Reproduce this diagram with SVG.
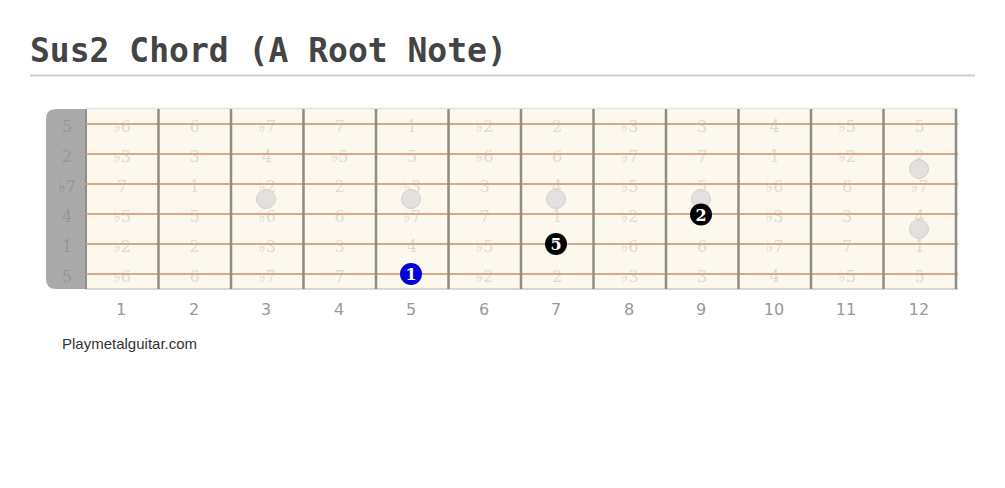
<svg xmlns="http://www.w3.org/2000/svg" width="1005" height="488" viewBox="0 0 1005 488">
<style>
.title{font-family:"DejaVu Sans Mono",monospace;font-weight:bold;font-size:33px;fill:#444}
.lbl{font-family:"DejaVu Serif",serif;font-size:16px;fill:#dedbd4;text-anchor:middle}
.nut{font-family:"DejaVu Serif",serif;font-size:16px;fill:#959595;text-anchor:middle}
.fnum{font-family:"DejaVu Sans",sans-serif;font-size:16px;fill:#999;text-anchor:middle}
.wm{font-family:"Liberation Sans",Arial,sans-serif;font-size:15px;fill:#333}
.str{stroke:#d3ab88;stroke-width:2}
.fret{stroke:#8f8c85;stroke-width:2.5}
.inlay{fill:#e2e1dd;stroke:#d2d0cc;stroke-width:1}
.dtxt{font-family:"DejaVu Serif",serif;font-weight:bold;font-size:16px;fill:#fff;text-anchor:middle}
</style>
<rect width="1005" height="488" fill="#fff"/>
<g id="title">
<text class="title" x="30" y="62">Sus2 Chord (A Root Note)</text>
<line x1="30" y1="75.5" x2="975" y2="75.5" stroke="#cfcfcf" stroke-width="2"/>
</g>
<g id="board">
<rect x="86" y="109" width="872" height="180" fill="#fdf8ee"/>
<line x1="86" y1="108.5" x2="958" y2="108.5" stroke="#e6e4e0" stroke-width="1.5"/>
<line x1="86" y1="289" x2="958" y2="289" stroke="#cdcbc6" stroke-width="1.5"/>
<path d="M86 109 H56 Q46 109 46 119 V279 Q46 289 56 289 H86 Z" fill="#aaa"/>
<line x1="86" y1="109" x2="86" y2="289" stroke="#8f8c85" stroke-width="2"/>
</g>
<g id="inlays">
<circle class="inlay" cx="266" cy="199" r="9.5"/>
<circle class="inlay" cx="411" cy="199" r="9.5"/>
<circle class="inlay" cx="556" cy="199" r="9.5"/>
<circle class="inlay" cx="701" cy="199" r="9.5"/>
<circle class="inlay" cx="919" cy="169" r="9.5"/>
<circle class="inlay" cx="919" cy="229" r="9.5"/>
</g>
<g id="labels">
<g class="nut">
<text x="67" y="131.5">5</text><text x="67" y="161.5">2</text><text x="67" y="191.5">♭7</text><text x="67" y="221.5">4</text><text x="67" y="251.5">1</text><text x="67" y="281.5">5</text>
</g>
<g class="lbl">
<text x="122" y="131.5">♭6</text><text x="194.5" y="131.5">6</text><text x="267" y="131.5">♭7</text><text x="339.5" y="131.5">7</text><text x="412" y="131.5">1</text><text x="484.5" y="131.5">♭2</text><text x="557" y="131.5">2</text><text x="629.5" y="131.5">♭3</text><text x="702" y="131.5">3</text><text x="774.5" y="131.5">4</text><text x="847" y="131.5">♭5</text><text x="919.5" y="131.5">5</text>
<text x="122" y="161.5">♭3</text><text x="194.5" y="161.5">3</text><text x="267" y="161.5">4</text><text x="339.5" y="161.5">♭5</text><text x="412" y="161.5">5</text><text x="484.5" y="161.5">♭6</text><text x="557" y="161.5">6</text><text x="629.5" y="161.5">♭7</text><text x="702" y="161.5">7</text><text x="774.5" y="161.5">1</text><text x="847" y="161.5">♭2</text><text x="919.5" y="161.5">2</text>
<text x="122" y="191.5">7</text><text x="194.5" y="191.5">1</text><text x="267" y="191.5">♭2</text><text x="339.5" y="191.5">2</text><text x="412" y="191.5">♭3</text><text x="484.5" y="191.5">3</text><text x="557" y="191.5">4</text><text x="629.5" y="191.5">♭5</text><text x="702" y="191.5">5</text><text x="774.5" y="191.5">♭6</text><text x="847" y="191.5">6</text><text x="919.5" y="191.5">♭7</text>
<text x="122" y="221.5">♭5</text><text x="194.5" y="221.5">5</text><text x="267" y="221.5">♭6</text><text x="339.5" y="221.5">6</text><text x="412" y="221.5">♭7</text><text x="484.5" y="221.5">7</text><text x="557" y="221.5">1</text><text x="629.5" y="221.5">♭2</text><text x="702" y="221.5">2</text><text x="774.5" y="221.5">♭3</text><text x="847" y="221.5">3</text><text x="919.5" y="221.5">4</text>
<text x="122" y="251.5">♭2</text><text x="194.5" y="251.5">2</text><text x="267" y="251.5">♭3</text><text x="339.5" y="251.5">3</text><text x="412" y="251.5">4</text><text x="484.5" y="251.5">♭5</text><text x="557" y="251.5">5</text><text x="629.5" y="251.5">♭6</text><text x="702" y="251.5">6</text><text x="774.5" y="251.5">♭7</text><text x="847" y="251.5">7</text><text x="919.5" y="251.5">1</text>
<text x="122" y="281.5">♭6</text><text x="194.5" y="281.5">6</text><text x="267" y="281.5">♭7</text><text x="339.5" y="281.5">7</text><text x="412" y="281.5">1</text><text x="484.5" y="281.5">♭2</text><text x="557" y="281.5">2</text><text x="629.5" y="281.5">♭3</text><text x="702" y="281.5">3</text><text x="774.5" y="281.5">4</text><text x="847" y="281.5">♭5</text><text x="919.5" y="281.5">5</text>
</g>
</g>
<g id="strings">
<line class="str" x1="86" y1="124" x2="958" y2="124"/>
<line class="str" x1="86" y1="154" x2="958" y2="154"/>
<line class="str" x1="86" y1="184" x2="958" y2="184"/>
<line class="str" x1="86" y1="214" x2="958" y2="214"/>
<line class="str" x1="86" y1="244" x2="958" y2="244"/>
<line class="str" x1="86" y1="274" x2="958" y2="274"/>
</g>
<g id="frets">
<line class="fret" x1="158.5" y1="109" x2="158.5" y2="289"/>
<line class="fret" x1="231" y1="109" x2="231" y2="289"/>
<line class="fret" x1="303.5" y1="109" x2="303.5" y2="289"/>
<line class="fret" x1="376" y1="109" x2="376" y2="289"/>
<line class="fret" x1="448.5" y1="109" x2="448.5" y2="289"/>
<line class="fret" x1="521" y1="109" x2="521" y2="289"/>
<line class="fret" x1="593.5" y1="109" x2="593.5" y2="289"/>
<line class="fret" x1="666" y1="109" x2="666" y2="289"/>
<line class="fret" x1="738.5" y1="109" x2="738.5" y2="289"/>
<line class="fret" x1="811" y1="109" x2="811" y2="289"/>
<line class="fret" x1="883.5" y1="109" x2="883.5" y2="289"/>
<line class="fret" x1="956" y1="109" x2="956" y2="289"/>
</g>
<g id="dot-root">
<circle cx="411" cy="274" r="11" fill="#0000dd"/>
<text class="dtxt" x="411" y="280">1</text>
</g>
<g id="dot-fifth">
<circle cx="556" cy="244" r="11" fill="#000"/>
<text class="dtxt" x="556" y="250">5</text>
</g>
<g id="dot-second">
<circle cx="701" cy="214.5" r="11" fill="#000"/>
<text class="dtxt" x="701" y="220.5">2</text>
</g>
<g id="fret-numbers" class="fnum">
<text x="121" y="315">1</text><text x="194" y="315">2</text><text x="266" y="315">3</text><text x="339" y="315">4</text><text x="411" y="315">5</text><text x="484" y="315">6</text><text x="556" y="315">7</text><text x="629" y="315">8</text><text x="701" y="315">9</text><text x="774" y="315">10</text><text x="846" y="315">11</text><text x="919" y="315">12</text>
</g>
<text class="wm" x="62" y="349">Playmetalguitar.com</text>
</svg>
